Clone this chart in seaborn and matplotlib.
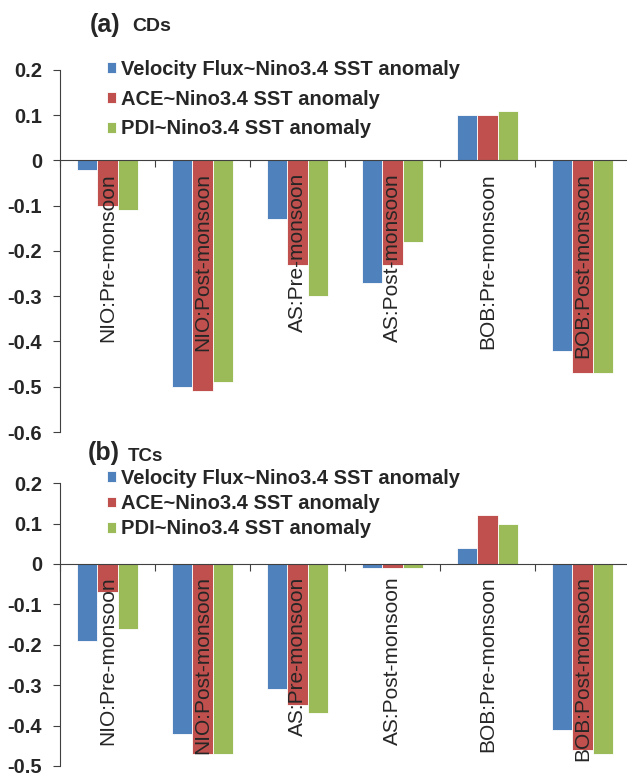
import numpy as np
import pandas as pd
import matplotlib
matplotlib.use('Agg')
import matplotlib.pyplot as plt
import seaborn as sns

# Data
categories = ['NIO:Pre-monsoon', 'NIO:Post-monsoon', 'AS:Pre-monsoon',
              'AS:Post-monsoon', 'BOB:Pre-monsoon', 'BOB:Post-monsoon']
series = ['Velocity Flux~Nino3.4 SST anomaly',
          'ACE~Nino3.4 SST anomaly',
          'PDI~Nino3.4 SST anomaly']

# (a) CDs
cd_velocity = [-0.02, -0.50, -0.13, -0.27, 0.10, -0.42]
cd_ace      = [-0.10, -0.51, -0.23, -0.23, 0.10, -0.47]
cd_pdi      = [-0.11, -0.49, -0.30, -0.18, 0.11, -0.47]

# (b) TCs
tc_velocity = [-0.19, -0.42, -0.31, -0.01, 0.04, -0.41]
tc_ace      = [-0.07, -0.47, -0.35, -0.01, 0.12, -0.46]
tc_pdi      = [-0.16, -0.47, -0.37, -0.01, 0.10, -0.47]

colors = ['#4F81BD', '#C0504D', '#9BBB59']

sns.set_style('white')
plt.rcParams['font.family'] = ['Liberation Sans', 'DejaVu Sans']


def long_table(v1, v2, v3):
    frames = []
    for name, vals in zip(series, [v1, v2, v3]):
        frames.append(pd.DataFrame({'cat': categories, 'series': name, 'val': vals}))
    return pd.concat(frames, ignore_index=True)


def draw_panel(ax, df, ylim, yticks):
    sns.barplot(data=df, x='cat', y='val', hue='series', palette=colors,
                saturation=1, width=0.65, edgecolor='white', linewidth=0.6, ax=ax)
    ax.set_ylim(*ylim)
    ax.set_xlim(-0.5, len(categories) - 0.5)
    ax.set_yticks(yticks)
    ax.set_yticklabels([f'{v:g}' for v in yticks], fontweight='bold', fontsize=14.5)
    ax.set_xticks(np.arange(len(categories) + 1) - 0.5)
    ax.set_xticklabels([])
    ax.set_xlabel('')
    ax.set_ylabel('')
    for s in ['top', 'right']:
        ax.spines[s].set_visible(False)
    ax.spines['bottom'].set_position(('data', 0))
    ax.spines['left'].set_color('#404040')
    ax.spines['bottom'].set_color('#404040')
    ax.tick_params(axis='y', direction='out', length=5, color='#404040', left=True, pad=8)
    ax.tick_params(axis='x', direction='out', length=5, color='#404040', bottom=True)
    # category names drawn inside the plot, just under the zero line
    for i, c in enumerate(categories):
        ax.annotate(c, xy=(i, 0), xytext=(0, -9), textcoords='offset points',
                    rotation=90, ha='center', va='top', fontsize=15)


fig = plt.figure(figsize=(6.27, 7.77), dpi=100)
ax1 = fig.add_axes([0.0957, 0.444, 0.909, 0.466])
ax2 = fig.add_axes([0.0957, 0.0142, 0.909, 0.364])

draw_panel(ax1, long_table(cd_velocity, cd_ace, cd_pdi), (-0.6, 0.2),
           [0.2, 0.1, 0, -0.1, -0.2, -0.3, -0.4, -0.5, -0.6])
draw_panel(ax2, long_table(tc_velocity, tc_ace, tc_pdi), (-0.5, 0.2),
           [0.2, 0.1, 0, -0.1, -0.2, -0.3, -0.4, -0.5])

# legends
leg_kw = dict(loc='upper left', bbox_transform=fig.transFigure, frameon=False,
              prop={'weight': 'bold', 'size': 14.5}, handlelength=0.45,
              handleheight=0.45, handletextpad=0.25, borderpad=0, borderaxespad=0)
h, l = ax1.get_legend_handles_labels()
ax1.legend(h, l, bbox_to_anchor=(107 / 627, 1 - 60 / 777), labelspacing=0.53, **leg_kw)
h, l = ax2.get_legend_handles_labels()
ax2.legend(h, l, bbox_to_anchor=(107 / 627, 1 - 469 / 777), labelspacing=0.31, **leg_kw)

# panel titles
fig.text(90 / 627, 1 - 32 / 777, '(a)', fontsize=18, fontweight='bold')
fig.text(132 / 627, 1 - 31 / 777, 'CDs', fontsize=14, fontweight='bold')
fig.text(88 / 627, 1 - 460 / 777, '(b)', fontsize=18, fontweight='bold')
fig.text(128 / 627, 1 - 461 / 777, 'TCs', fontsize=13.5, fontweight='bold')

fig.savefig('out.png', dpi=100)
